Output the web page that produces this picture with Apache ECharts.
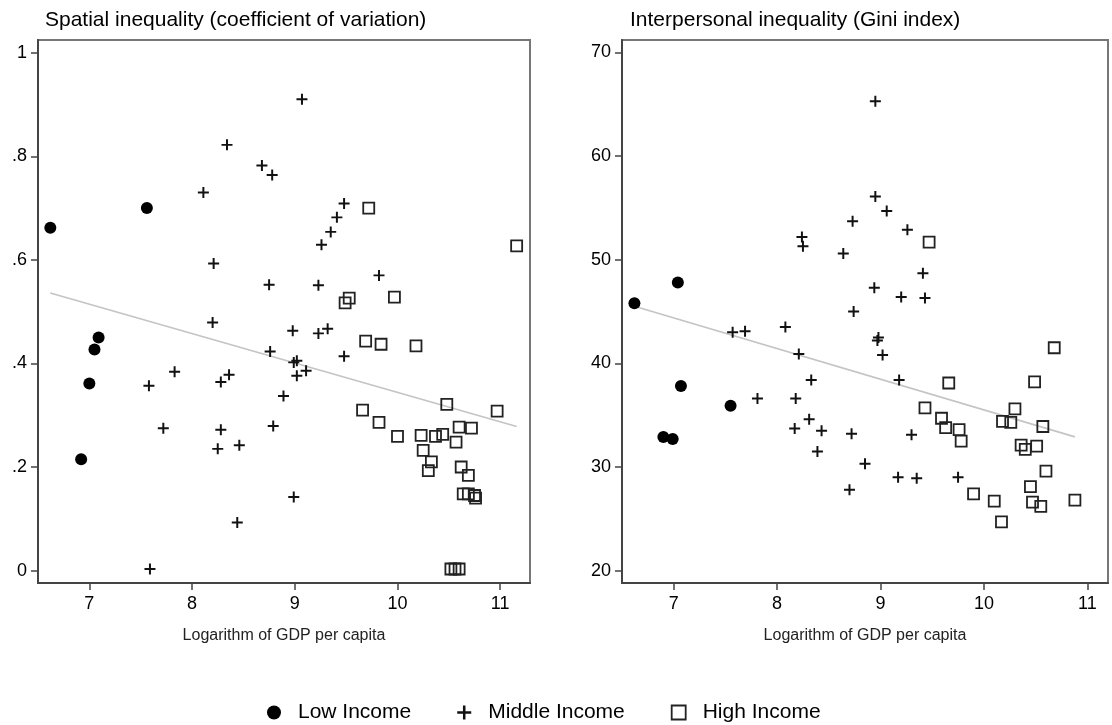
<!DOCTYPE html>
<html>
<head>
<meta charset="utf-8">
<script src="https://cdn.jsdelivr.net/npm/echarts@6/dist/echarts.min.js"></script>
<style>
html,body{margin:0;padding:0;background:#fff;}
#chart{width:1112px;height:725px;}
</style>
</head>
<body>
<div id="chart"></div>
<script>
// ---------- Data ----------
const panelTitles = ['Spatial inequality (coefficient of variation)', 'Interpersonal inequality (Gini index)'];
const xAxisName = 'Logarithm of GDP per capita';
const groupNames = ['Low Income', 'Middle Income', 'High Income'];

const xTicks = [7, 8, 9, 10, 11];
const yTicksLeft = [0, 0.2, 0.4, 0.6, 0.8, 1];
const yTickLabelsLeft = ['0', '.2', '.4', '.6', '.8', '1'];
const yTicksRight = [20, 30, 40, 50, 60, 70];
const yTickLabelsRight = ['20', '30', '40', '50', '60', '70'];

// Spatial inequality (left panel)
const lowSpatial = [[6.62,0.662],[7.56,0.700],[7.09,0.450],[7.05,0.427],[7.00,0.361],[6.92,0.215]];
const midSpatial = [
  [8.34,0.822],[8.68,0.782],[8.78,0.764],[8.11,0.730],[9.07,0.910],[9.48,0.709],[9.41,0.682],
  [9.35,0.654],[9.26,0.629],[8.21,0.593],[8.75,0.552],[9.82,0.570],[9.23,0.551],[8.20,0.479],
  [8.98,0.463],[9.23,0.458],[9.32,0.467],[8.76,0.423],[9.48,0.414],[9.02,0.405],[8.99,0.402],
  [9.11,0.386],[9.02,0.376],[8.89,0.337],[8.79,0.279],[8.99,0.142],[7.83,0.384],[8.36,0.378],
  [8.28,0.364],[7.58,0.357],[7.72,0.275],[8.28,0.272],[8.46,0.242],[8.25,0.235],[8.44,0.093],
  [7.59,0.003]
];
const highSpatial = [
  [9.72,0.700],[11.16,0.627],[9.53,0.526],[9.49,0.517],[9.97,0.528],[9.69,0.443],[9.84,0.437],
  [10.18,0.434],[10.48,0.321],[9.66,0.310],[10.97,0.308],[9.82,0.286],[10.60,0.277],[10.72,0.275],
  [10.00,0.259],[10.23,0.261],[10.37,0.259],[10.44,0.263],[10.57,0.248],[10.25,0.232],[10.33,0.210],
  [10.30,0.193],[10.62,0.200],[10.69,0.184],[10.64,0.148],[10.69,0.148],[10.75,0.145],[10.76,0.140],
  [10.52,0.003],[10.56,0.003],[10.60,0.003]
];
const fitSpatial = [[6.62,0.536],[11.16,0.278]];

// Interpersonal inequality (right panel)
const lowGini = [[6.62,45.8],[7.04,47.8],[7.07,37.8],[7.55,35.9],[6.90,32.9],[6.99,32.7]];
const midGini = [
  [8.24,52.2],[8.25,51.3],[8.64,50.6],[8.73,53.7],[8.95,65.3],[8.95,56.1],[9.06,54.7],[9.26,52.9],
  [9.41,48.7],[8.94,47.3],[9.20,46.4],[9.43,46.3],[8.74,45.0],[7.57,43.0],[7.69,43.1],[8.08,43.5],
  [8.21,40.9],[8.33,38.4],[7.81,36.6],[8.18,36.6],[8.31,34.6],[8.17,33.7],[8.43,33.5],[8.39,31.5],
  [8.72,33.2],[8.70,27.8],[8.98,42.5],[8.97,42.2],[9.02,40.8],[9.18,38.4],[9.30,33.1],[8.85,30.3],
  [9.17,29.0],[9.35,28.9],[9.75,29.0]
];
const highGini = [
  [9.47,51.7],[10.68,41.5],[9.66,38.1],[10.49,38.2],[9.43,35.7],[10.30,35.6],[9.59,34.7],[10.18,34.4],
  [10.26,34.3],[9.63,33.8],[9.76,33.6],[10.57,33.9],[9.78,32.5],[10.36,32.1],[10.40,31.7],[10.51,32.0],
  [10.60,29.6],[10.45,28.1],[9.90,27.4],[10.10,26.7],[10.47,26.6],[10.55,26.2],[10.88,26.8],[10.17,24.7]
];
const fitGini = [[6.62,45.5],[10.88,32.9]];

// ---------- Styling ----------
const FONT = '"Liberation Sans", Arial, Helvetica, sans-serif';
const plusPath = 'path://M4.1,0H5.9V4.1H10V5.9H5.9V10H4.1V5.9H0V4.1H4.1Z';

function xAxisCfg(gridIndex, max) {
  return {
    type: 'value', gridIndex, min: 6.5, max,
    name: xAxisName, nameLocation: 'middle', nameGap: 45,
    nameTextStyle: { fontFamily: FONT, fontSize: 16, color: '#222' },
    axisLine: { show: true, onZero: false, lineStyle: { color: '#444', width: 2 } },
    axisTick: { show: true, length: 7, lineStyle: { color: '#444', width: 1.5 }, customValues: xTicks },
    axisLabel: { fontFamily: FONT, fontSize: 18, color: '#000', margin: 12, customValues: xTicks },
    splitLine: { show: false }
  };
}
function yAxisCfg(gridIndex, min, max, ticks, labels) {
  return {
    type: 'value', gridIndex, min, max,
    axisLine: { show: true, onZero: false, lineStyle: { color: '#444', width: 2 } },
    axisTick: { show: true, length: 7, lineStyle: { color: '#444', width: 1.5 }, customValues: ticks },
    axisLabel: {
      fontFamily: FONT, fontSize: 18, color: '#000', margin: 11, customValues: ticks,
      formatter: v => { const i = ticks.findIndex(t => Math.abs(t - v) < 1e-9); return i >= 0 ? labels[i] : ''; }
    },
    splitLine: { show: false }
  };
}
function groupSeries(idx, low, mid, high, fit) {
  return [
    { name: 'fit', type: 'line', xAxisIndex: idx, yAxisIndex: idx, data: fit, symbol: 'none',
      lineStyle: { color: '#c4c4c4', width: 1.6 }, silent: true, z: 1 },
    { name: groupNames[0], type: 'scatter', xAxisIndex: idx, yAxisIndex: idx, data: low,
      symbol: 'circle', symbolSize: 12, itemStyle: { color: '#000', opacity: 1 }, z: 3 },
    { name: groupNames[1], type: 'scatter', xAxisIndex: idx, yAxisIndex: idx, data: mid,
      symbol: plusPath, symbolSize: 11, itemStyle: { color: '#111', opacity: 1 }, z: 3 },
    { name: groupNames[2], type: 'scatter', xAxisIndex: idx, yAxisIndex: idx, data: high,
      symbol: 'rect', symbolSize: 11, itemStyle: { color: 'rgba(255,255,255,0)', borderColor: '#222', borderWidth: 1.8, opacity: 1 }, z: 3 }
  ];
}

const chart = echarts.init(document.getElementById('chart'), null, { renderer: 'canvas' });
chart.setOption({
  backgroundColor: '#fff',
  animation: false,
  title: [
    { text: panelTitles[0], left: 40, top: 5, textStyle: { fontFamily: FONT, fontSize: 21, fontWeight: 'normal', color: '#000' } },
    { text: panelTitles[1], left: 625, top: 5, textStyle: { fontFamily: FONT, fontSize: 21, fontWeight: 'normal', color: '#000' } }
  ],
  grid: [
    { left: 38, top: 40, width: 492, height: 543, show: true, borderColor: '#777', borderWidth: 2, backgroundColor: '#fff' },
    { left: 622, top: 40, width: 486, height: 543, show: true, borderColor: '#777', borderWidth: 2, backgroundColor: '#fff' }
  ],
  xAxis: [xAxisCfg(0, 11.29), xAxisCfg(1, 11.2)],
  yAxis: [
    yAxisCfg(0, -0.024, 1.0245, yTicksLeft, yTickLabelsLeft),
    yAxisCfg(1, 18.8, 71.2, yTicksRight, yTickLabelsRight)
  ],
  legend: {
    left: 262, top: 697, itemGap: 46, itemWidth: 14, itemHeight: 14,
    textStyle: { fontFamily: FONT, fontSize: 21, color: '#000', padding: [0, 0, 0, 12] },
    data: [
      { name: groupNames[0], icon: 'circle', itemStyle: { color: '#000', opacity: 1 } },
      { name: groupNames[1], icon: plusPath, itemStyle: { color: '#111', opacity: 1 } },
      { name: groupNames[2], icon: 'rect', itemStyle: { color: 'rgba(255,255,255,0)', borderColor: '#222', borderWidth: 1.8 } }
    ],
    selectedMode: false
  },
  series: [
    ...groupSeries(0, lowSpatial, midSpatial, highSpatial, fitSpatial),
    ...groupSeries(1, lowGini, midGini, highGini, fitGini)
  ]
});
</script>
</body>
</html>
